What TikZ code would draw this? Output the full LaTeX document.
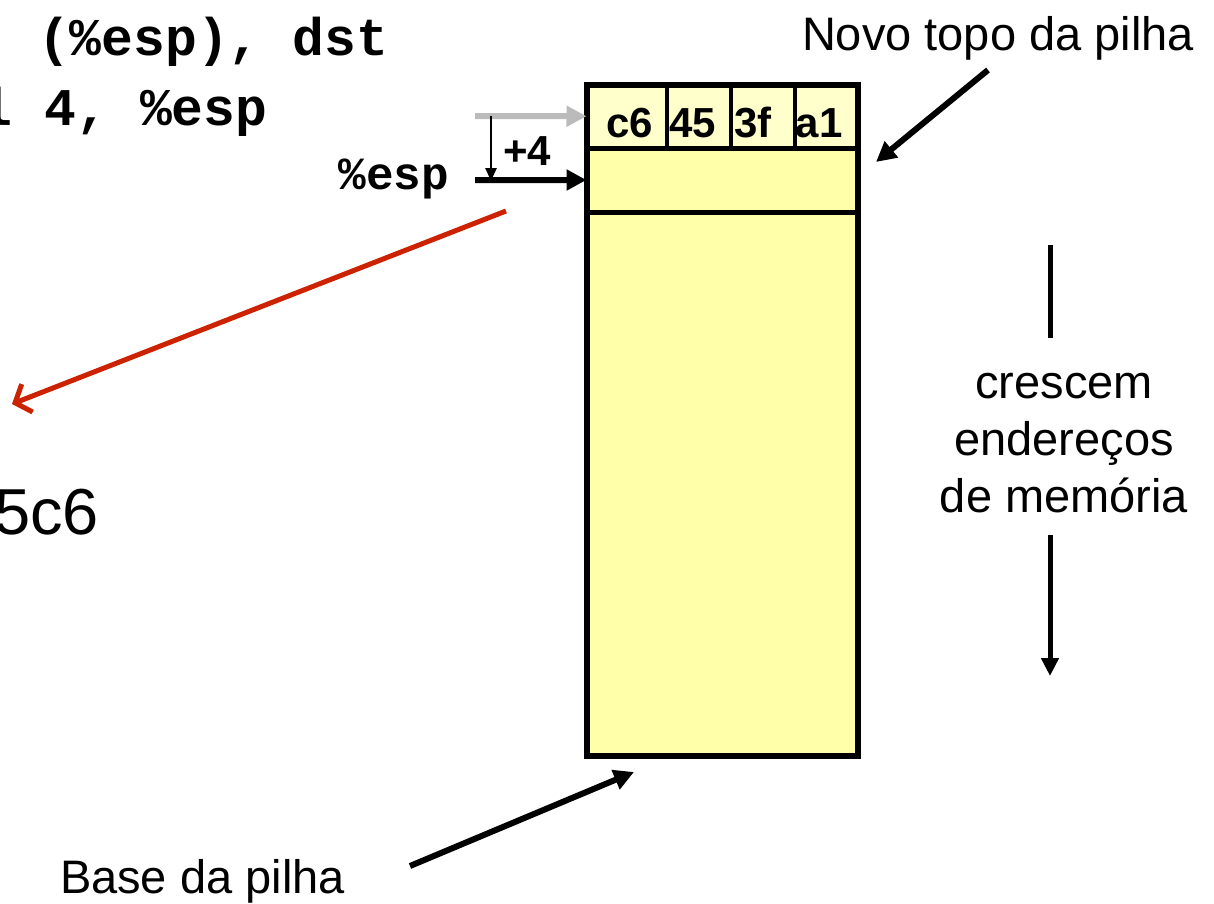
\documentclass[tikz,border=0pt]{standalone}
\usepackage{fontspec}
\setmainfont{Liberation Sans}
\setmonofont{Liberation Mono}
\usetikzlibrary{arrows.meta}
\definecolor{cellA}{HTML}{FFFFCC}
\definecolor{cellB}{HTML}{FFFFAA}
\definecolor{redarr}{HTML}{CC2200}
\definecolor{grayarr}{HTML}{BBBBBB}
\begin{document}
\begin{tikzpicture}[x=1bp,y=-1bp,
  box/.style={draw, line width=5bp, inner sep=0pt, outer sep=0pt, anchor=north west},
  txt/.style={inner sep=0pt, outer sep=0pt},
  big/.style={txt, font=\fontsize{47bp}{57bp}\selectfont},
  code/.style={txt, font=\fontsize{53bp}{60bp}\selectfont\ttfamily\bfseries},
  celltxt/.style={txt, anchor=base, font=\fontsize{42bp}{50bp}\selectfont\bfseries},
  arr/.style={line width=6bp, -{Triangle[length=20bp,width=20bp]}},
  thinarr/.style={line width=2.5bp, -{Triangle[length=13bp,width=11bp]}},
  redarrow/.style={draw=redarr, line width=5bp, -{Straight Barb[length=13bp,width=30bp]}}
]
\useasboundingbox (0,0) rectangle (1214,904);
\clip (0,0) rectangle (1214,904);

% code lines (cut at the left edge)
\node[code, anchor=base west] (l1) at (38,55) {(\%esp), dst};
\node[code, anchor=base west] (l2) at (-19,125) {l 4, \%esp};

% stack
\node[box, fill=cellB, minimum width=271.5bp, minimum height=544bp] (low) at (586.5,212) {};
\node[box, fill=cellB, minimum width=271.5bp, minimum height=64bp] (r2) at (586.5,148) {};
\node[box, fill=cellA, line width=4.5bp, minimum width=80.5bp, minimum height=63.5bp] (c1) at (586.5,84.5) {};
\node[box, fill=cellA, line width=4.5bp, minimum width=64bp, minimum height=63.5bp] (c2) at (667,84.5) {};
\node[box, fill=cellA, line width=4.5bp, minimum width=64bp, minimum height=63.5bp] (c3) at (731,84.5) {};
\node[box, fill=cellA, line width=4.5bp, minimum width=63bp, minimum height=63.5bp] (c4) at (795,84.5) {};
\node[box, line width=6bp, minimum width=271.5bp, minimum height=671.5bp] (stack) at (586.5,84.5) {};
\draw[line width=5bp] (r2.north west) -- (r2.north east);

\node[celltxt] (t1) at (630,137) {c6};
\node[celltxt] (t2) at (693,137) {45};
\node[celltxt] (t3) at (753,137) {3f};
\node[celltxt] (t4) at (819,137) {a1};

% esp pointer
\coordinate (g0) at (475,116);
\coordinate (b0) at (475,180);
\draw[arr, draw=grayarr, -{Triangle[length=20bp,width=20bp,fill=grayarr]}] (g0) -- (c1.west);
\draw[arr] (b0) -- (r2.west);
\coordinate (v0) at (491,116);
\coordinate (v1) at (491,181);
\draw[thinarr] (v0) -- (v1);
\node[celltxt, anchor=base west] (plus) at (503,165) {+4};
\node[code, anchor=base east, font=\fontsize{46bp}{54bp}\selectfont\ttfamily\bfseries] (esp) at (449,189) {\%esp};

% red arrow and value
\coordinate (rs) at (506,211);
\coordinate (re) at (12,404);
\draw[redarrow] (rs) -- (re);
\node[txt, anchor=base east, font=\fontsize{65bp}{70bp}\selectfont] (val) at (99,534) {5c6};

% labels
\node[big, anchor=base west] (novo) at (802,50) {Novo topo da pilha};
\coordinate (n0) at (988,70);
\coordinate (n1) at (876,162);
\draw[arr] (n0) -- (n1);

\node[big, anchor=base west] (base) at (60,893) {Base da pilha};
\coordinate (bs) at (410,866);
\coordinate (bt) at (634,772);
\draw[arr] (bs) -- (bt);

\coordinate (m0) at (1050,245);
\coordinate (m1) at (1050,338);
\draw[line width=5bp] (m0) -- (m1);
\node[big, align=center, anchor=base] (cres) at (1064,512) {crescem\\endereços\\de memória};
\coordinate (m2) at (1050,535);
\coordinate (m3) at (1050,676);
\draw[line width=5bp, -{Triangle[length=18bp,width=17bp]}] (m2) -- (m3);
\end{tikzpicture}
\end{document}
